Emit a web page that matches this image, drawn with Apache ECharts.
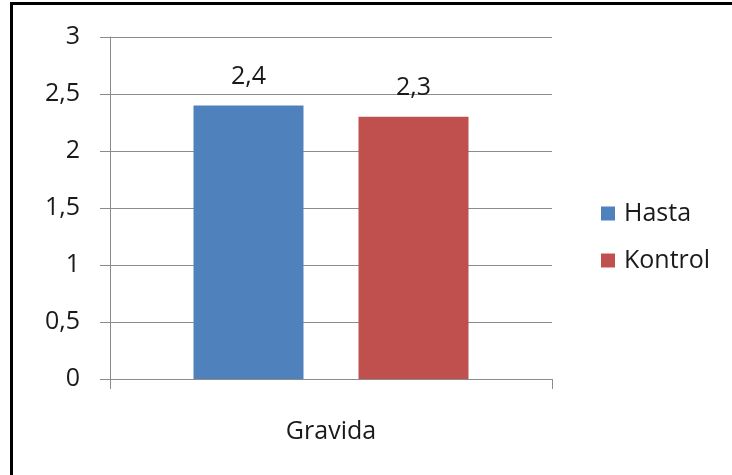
<!DOCTYPE html>
<html>
<head>
<meta charset="utf-8">
<script src="https://cdn.jsdelivr.net/npm/echarts@6/dist/echarts.min.js"></script>
<style>
  html, body { margin: 0; padding: 0; background: #fff; }
  #chart { width: 732px; height: 475px; }
</style>
</head>
<body>
<div id="chart"></div>
<script>
// Gravida averages for patient and control groups
const categories = ['Gravida'];
const hastaValues = [2.4];
const kontrolValues = [2.3];
const yTicks = { min: 0, max: 3, interval: 0.5 };

const fontFamily = '"Open Sans", Lato, "Liberation Sans", sans-serif';
const fontSize = 25;
const textColor = '#1a1a1a';
const fmt = v => String(v).replace('.', ',');

const chart = echarts.init(document.getElementById('chart'), null, { renderer: 'canvas' });

chart.setOption({
  backgroundColor: '#ffffff',
  animation: false,
  graphic: [{
    type: 'rect',
    shape: { x: 11.5, y: 3.5, width: 760, height: 520 },
    style: { fill: 'none', stroke: '#000', lineWidth: 3 },
    z: 100
  }],
  grid: { left: 110, right: 180, top: 37, bottom: 96 },
  legend: {
    orient: 'vertical',
    left: 596,
    top: 196,
    itemWidth: 14,
    itemHeight: 14,
    itemGap: 22,
    icon: 'rect',
    textStyle: { fontFamily, fontSize, color: textColor, padding: [0, 0, 0, 4] },
    data: ['Hasta', 'Kontrol']
  },
  xAxis: {
    type: 'category',
    data: categories,
    axisLine: { lineStyle: { color: '#8c8c8c', width: 1 } },
    axisTick: { show: true, length: 10, lineStyle: { color: '#8c8c8c' } },
    axisLabel: { fontFamily, fontSize, color: textColor, margin: 40 }
  },
  yAxis: {
    type: 'value',
    min: yTicks.min,
    max: yTicks.max,
    interval: yTicks.interval,
    axisLine: { show: true, lineStyle: { color: '#8c8c8c', width: 1 } },
    axisTick: { show: true, length: 10, lineStyle: { color: '#8c8c8c' } },
    splitLine: { lineStyle: { color: '#8c8c8c', width: 1 } },
    axisLabel: { fontFamily, fontSize, color: textColor, margin: 30, formatter: fmt }
  },
  series: [
    {
      name: 'Hasta',
      type: 'bar',
      data: hastaValues,
      barWidth: 110,
      barGap: '50%',
      itemStyle: { color: '#4f81bd' },
      label: {
        show: true, position: 'top', distance: 16,
        fontFamily, fontSize, color: textColor,
        formatter: p => fmt(p.value)
      }
    },
    {
      name: 'Kontrol',
      type: 'bar',
      data: kontrolValues,
      barWidth: 110,
      itemStyle: { color: '#c0504d' },
      label: {
        show: true, position: 'top', distance: 16,
        fontFamily, fontSize, color: textColor,
        formatter: p => fmt(p.value)
      }
    }
  ]
});
</script>
</body>
</html>
